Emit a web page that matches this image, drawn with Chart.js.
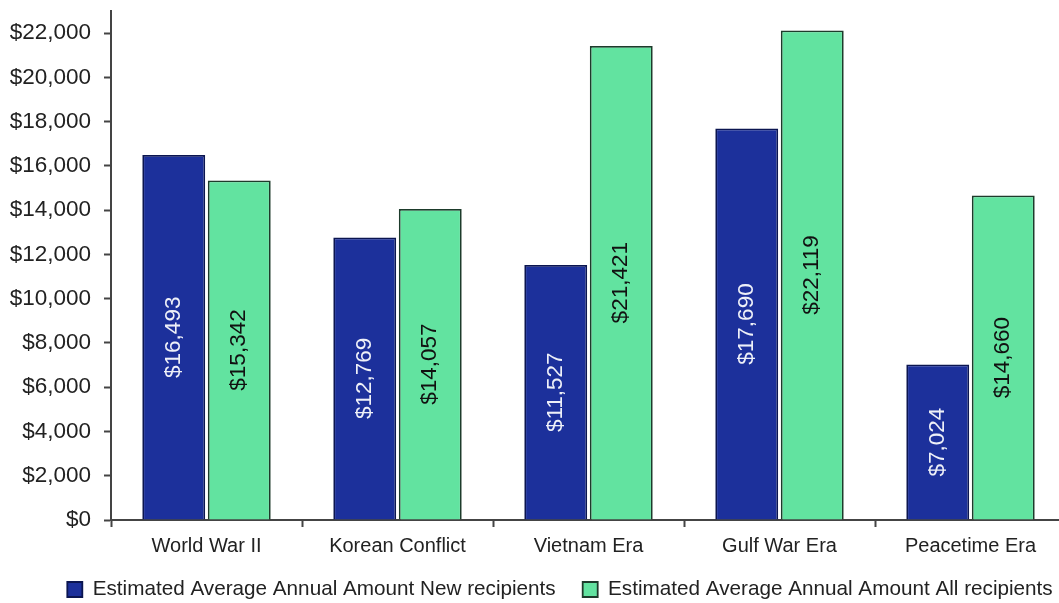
<!DOCTYPE html>
<html>
<head>
<meta charset="utf-8">
<script src="https://cdn.jsdelivr.net/npm/chart.js@4"></script>
<style>
  html, body { margin: 0; padding: 0; background: #fff; overflow: hidden; }
  #wrap { width: 1120px; height: 603px; }
</style>
</head>
<body>
<div id="wrap"><canvas id="chart"></canvas></div>
<script>
// Data
var categories = ['World War II', 'Korean Conflict', 'Vietnam Era', 'Gulf War Era', 'Peacetime Era'];
var newRecipients = [16493, 12769, 11527, 17690, 7024];
var allRecipients = [15342, 14057, 21421, 22119, 14660];
var yTicks = [0, 2000, 4000, 6000, 8000, 10000, 12000, 14000, 16000, 18000, 20000, 22000];

var FONT = '"Liberation Sans", Arial, sans-serif';

function money(v) {
    return '$' + Number(v).toLocaleString('en-US');
}

// draws the value rotated, in the middle of each bar
var barLabels = {
    id: 'barLabels',
    afterDatasetsDraw: function (chart) {
        var ctx = chart.ctx;
        chart.data.datasets.forEach(function (ds, i) {
            var meta = chart.getDatasetMeta(i);
            meta.data.forEach(function (bar, j) {
                ctx.save();
                ctx.translate(bar.x, (bar.y + bar.base) / 2);
                ctx.rotate(-Math.PI / 2);
                ctx.font = '22.5px ' + FONT;
                ctx.fillStyle = ds.labelColor;
                ctx.textAlign = 'center';
                ctx.textBaseline = 'middle';
                ctx.fillText(money(ds.data[j]), 0, 0);
                ctx.restore();
            });
        });
    }
};

new Chart(document.getElementById('chart'), {
    type: 'bar',
    data: {
        labels: categories,
        datasets: [{
            label: 'Estimated Average Annual Amount New recipients',
            data: newRecipients,
            backgroundColor: '#1c309b',
            borderColor: '#0b1550',
            borderWidth: 1.8,
            labelColor: '#eef0f8',
            barPercentage: 0.96,
            categoryPercentage: 0.686
        }, {
            label: 'Estimated Average Annual Amount All recipients',
            data: allRecipients,
            backgroundColor: '#62e3a0',
            borderColor: '#1d3b2b',
            borderWidth: 1.8,
            labelColor: '#111',
            barPercentage: 0.96,
            categoryPercentage: 0.686
        }]
    },
    options: {
        responsive: true,
        maintainAspectRatio: false,
        animation: false,
        layout: { padding: { top: 11, right: 0, bottom: 0, left: 0 } },
        plugins: {
            tooltip: { enabled: false },
            legend: {
                position: 'bottom',
                maxHeight: 50.85,
                labels: {
                    boxWidth: 15,
                    boxHeight: 15,
                    padding: 27,
                    color: '#222',
                    font: { family: FONT, size: 20.7 }
                }
            }
        },
        scales: {
            x: {
                offset: true,
                afterFit: function (scale) {
                    scale.height = 32.15;
                    // let the category names hang over the legend box
                    scale._computeLabelArea = function () { return null; };
                },
                grid: {
                    offset: true,
                    drawOnChartArea: false,
                    tickLength: 7,
                    tickColor: '#444',
                    tickWidth: 2
                },
                border: { display: true, color: '#444', width: 2 },
                ticks: {
                    color: '#222',
                    padding: 19.4,
                    font: { family: FONT, size: 20, lineHeight: 0.04 }
                }
            },
            y: {
                min: 0,
                max: 23000,
                afterBuildTicks: function (scale) {
                    scale.ticks = yTicks.map(function (v) { return { value: v }; });
                },
                afterFit: function (scale) {
                    scale.width = 111;
                    scale.paddingTop = 0;
                    scale.paddingBottom = 0;
                },
                grid: {
                    drawOnChartArea: false,
                    tickLength: 7,
                    tickColor: '#444',
                    tickWidth: 2
                },
                border: { display: true, color: '#444', width: 2 },
                ticks: {
                    color: '#222',
                    padding: 13,
                    callback: function (v) { return money(v); },
                    font: { family: FONT, size: 22.5 }
                }
            },
            // empty axis on the right, only reserves the space past the picture edge
            spacer: {
                position: 'right',
                afterFit: function (scale) {
                    scale.width = 54;
                    scale.paddingTop = 0;
                    scale.paddingBottom = 0;
                },
                grid: { display: false },
                border: { display: false },
                ticks: { display: false }
            }
        }
    },
    plugins: [barLabels]
});
</script>
</body>
</html>
